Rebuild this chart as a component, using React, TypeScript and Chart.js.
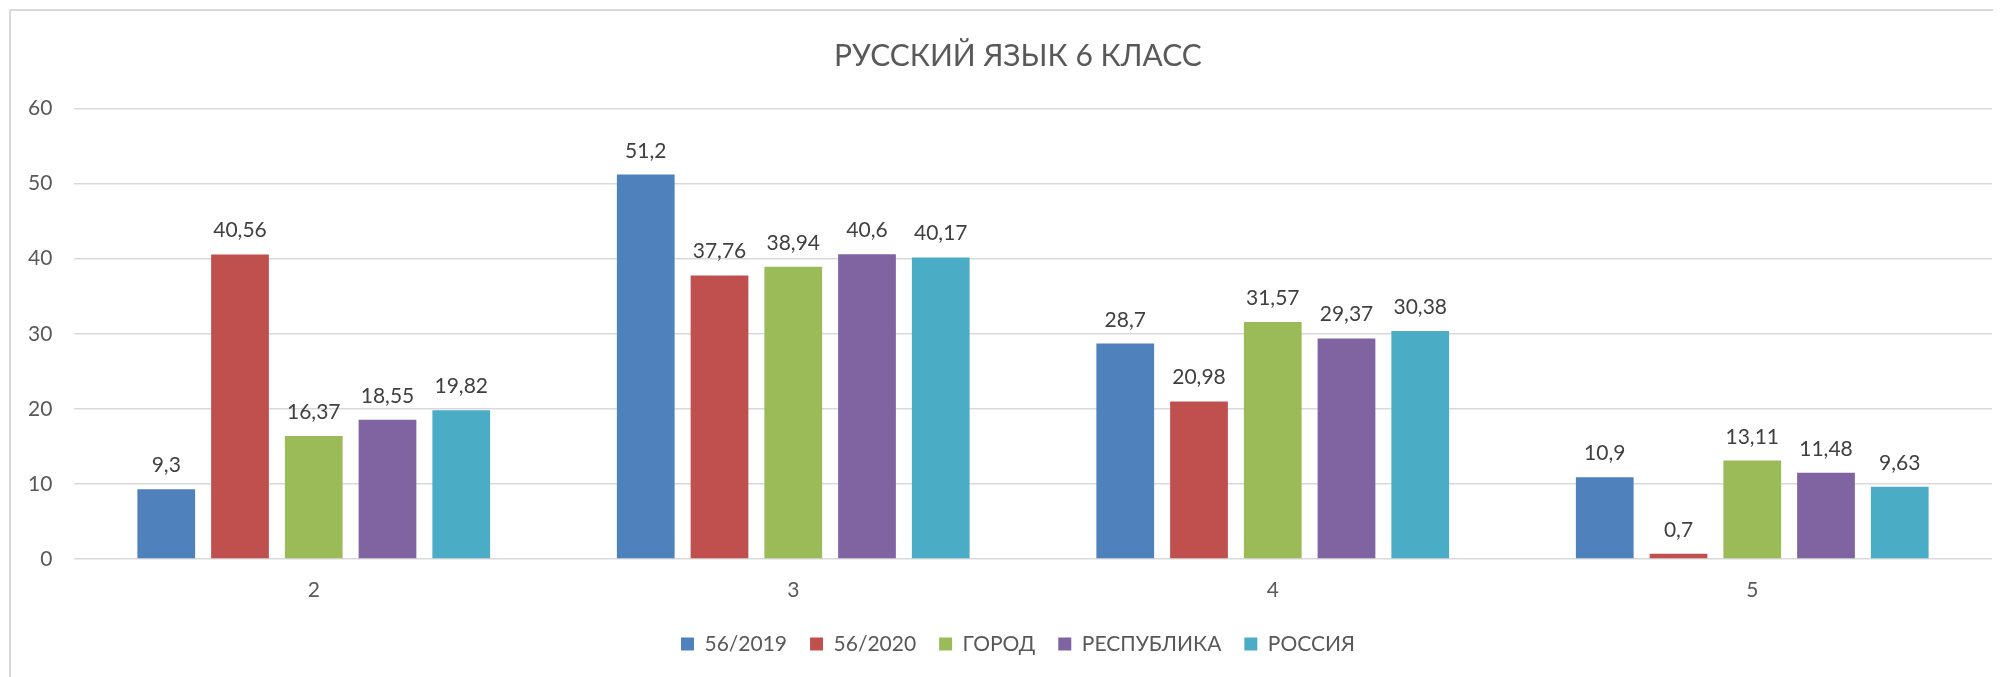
import React, { useEffect, useRef } from "react";
import { Chart, registerables } from "chart.js";

Chart.register(...registerables);

const categories = ["2", "3", "4", "5"];
const seriesNames = ["56/2019", "56/2020", "ГОРОД", "РЕСПУБЛИКА", "РОССИЯ"];
const s2019 = [9.3, 51.2, 28.7, 10.9];
const s2020 = [40.56, 37.76, 20.98, 0.7];
const sCity = [16.37, 38.94, 31.57, 13.11];
const sRep = [18.55, 40.6, 29.37, 11.48];
const sRus = [19.82, 40.17, 30.38, 9.63];
const yTicks = [0, 10, 20, 30, 40, 50, 60];
const titleText = "РУССКИЙ ЯЗЫК 6 КЛАСС";

const colors = ["#4F81BD", "#C0504D", "#9BBB59", "#8064A2", "#4BACC6"];
const FONT = "Lato, 'Open Sans', sans-serif";

const frame = {
  id: "frame",
  beforeDraw(chart: any) {
    const ctx = chart.ctx;
    ctx.save();
    ctx.fillStyle = "#ffffff";
    ctx.fillRect(0, 0, chart.width, chart.height);
    ctx.strokeStyle = "#d9d9d9";
    ctx.lineWidth = 2;
    ctx.strokeRect(2, 2, chart.width + 20, chart.height + 20);
    ctx.restore();
  },
};

const valueLabels = {
  id: "valueLabels",
  afterDatasetsDraw(chart: any) {
    const ctx = chart.ctx;
    ctx.save();
    ctx.font = `21px ${FONT}`;
    ctx.fillStyle = "#404040";
    ctx.textAlign = "center";
    ctx.textBaseline = "alphabetic";
    chart.data.datasets.forEach((ds: any, i: number) => {
      const meta = chart.getDatasetMeta(i);
      meta.data.forEach((bar: any, j: number) => {
        const v = ds.data[j];
        ctx.fillText(String(v).replace(".", ","), bar.x, bar.y - 17);
      });
    });
    ctx.restore();
  },
};

export default function App() {
  const ref = useRef<HTMLCanvasElement>(null);
  useEffect(() => {
    document.documentElement.style.overflow = "hidden";
    document.body.style.overflow = "hidden";
    const all = [s2019, s2020, sCity, sRep, sRus];
    const chart = new Chart(ref.current!, {
      type: "bar",
      data: {
        labels: categories,
        datasets: seriesNames.map((name, i) => ({
          label: name,
          data: all[i],
          backgroundColor: colors[i],
          borderWidth: 0,
          barPercentage: 0.783,
          categoryPercentage: 0.769,
        })),
      },
      options: {
        responsive: false,
        animation: false,
        layout: { padding: { left: 36, right: 9, top: 18, bottom: 43.5 } },
        plugins: {
          title: {
            display: true,
            text: titleText,
            color: "#595959",
            font: { family: FONT, size: 30, weight: "normal" },
            padding: { top: 12.5, bottom: 34 },
          },
          legend: {
            position: "bottom",
            labels: {
              boxWidth: 13,
              boxHeight: 13,
              padding: 23,
              color: "#595959",
              font: { family: FONT, size: 21 },
            },
          },
          tooltip: { enabled: false },
        },
        scales: {
          x: {
            grid: { display: false, drawTicks: false },
            border: { display: false },
            ticks: {
              color: "#595959",
              font: { family: FONT, size: 21 },
              padding: 19,
            },
            afterFit: (scale: any) => {
              scale.height = 51.5;
            },
          },
          y: {
            min: 0,
            max: 60,
            afterBuildTicks: (scale: any) => {
              scale.ticks = yTicks.map((v) => ({ value: v }));
            },
            grid: { color: "#d9d9d9", lineWidth: 1.5, drawTicks: false },
            border: { display: false },
            ticks: {
              color: "#595959",
              font: { family: FONT, size: 21 },
              mirror: true,
              crossAlign: "far",
              padding: -46,
            },
            afterFit: (scale: any) => {
              scale.width = 30;
            },
          },
        },
      },
      plugins: [frame, valueLabels],
    });
    return () => chart.destroy();
  }, []);
  return (
    <canvas
      ref={ref}
      width={1993}
      height={700}
      style={{ display: "block", width: 1993, height: 700 }}
    />
  );
}
